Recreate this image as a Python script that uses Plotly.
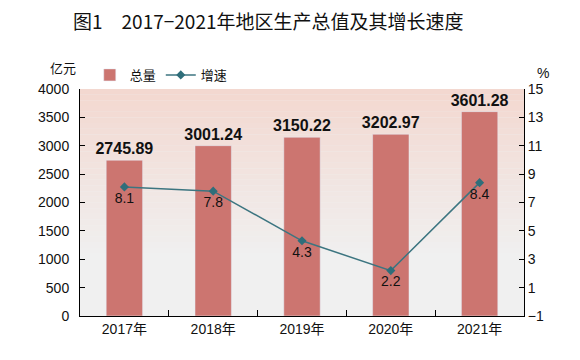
import plotly.graph_objects as go

years = ["2017年", "2018年", "2019年", "2020年", "2021年"]
totals = [2745.89, 3001.24, 3150.22, 3202.97, 3601.28]
growth = [8.1, 7.8, 4.3, 2.2, 8.4]
left_ticks = [0, 500, 1000, 1500, 2000, 2500, 3000, 3500, 4000]
right_ticks = [-1, 1, 3, 5, 7, 9, 11, 13, 15]

FONT = "Liberation Sans, Arial, Noto Sans CJK SC, sans-serif"
CJK = "Noto Sans CJK SC, sans-serif"

fig = go.Figure()
fig.add_trace(go.Bar(
    x=years, y=totals, name="总量", marker_color="#cc7570",
    width=0.41,
    text=[f"{v:.2f}" for v in totals], textposition="outside",
    constraintext="none",
    textfont=dict(size=16, color="#111111", family="Liberation Sans, Arial, sans-serif", weight="bold"),
    cliponaxis=False,
))
fig.add_trace(go.Scatter(
    x=years, y=growth, name="增速", yaxis="y2", mode="lines+markers+text",
    line=dict(color="#3c7580", width=1.5),
    marker=dict(symbol="diamond", size=7, color="#2f6e7a"),
    text=[f"{v:.1f}" for v in growth], textposition="bottom center",
    textfont=dict(size=14, color="#111111"),
))

# gradient background
top = (243, 216, 208)
bot = (240, 240, 240)
n = 40
for i in range(n):
    t = i / (n - 1)
    f = min(1.0, t / 0.75)
    c = tuple(round(top[k] + (bot[k] - top[k]) * f) for k in range(3))
    fig.add_shape(type="rect", xref="x domain", yref="y domain",
                  x0=0, x1=1, y0=1 - (i + 1) / n, y1=1 - i / n,
                  fillcolor=f"rgb{c}", line_width=0, layer="below")

fig.update_layout(
    width=572, height=352,
    margin=dict(l=72, r=56, t=81, b=44),
    paper_bgcolor="white", plot_bgcolor="#f0f0f0",
    font=dict(family=FONT, size=14, color="#111111"),
    title=dict(text="图1　2017−2021年地区生产总值及其增长速度", x=0.455, xanchor="center",
               y=0.96, yanchor="middle",
               font=dict(size=19, color="#111111", family=CJK)),
    showlegend=True,
    legend=dict(orientation="h", x=0.022, y=1.062, xanchor="left", yanchor="middle",
                font=dict(size=13, family=CJK), bgcolor="rgba(0,0,0,0)"),
    bargap=0.59,
    xaxis=dict(type="category", showline=True, linecolor="#000000", linewidth=1,
               ticks="inside", ticklen=6, tickcolor="#000000", tickson="boundaries",
               tickfont=dict(size=14, family=FONT), showgrid=False, mirror=False),
    yaxis=dict(range=[0, 4000], tickvals=left_ticks, showline=True, linecolor="#000000",
               ticks="inside", ticklen=5, tickcolor="#000000", showgrid=False, zeroline=False,
               ticklabelstandoff=7,
               tickfont=dict(size=14, family=FONT)),
    yaxis2=dict(range=[-1, 15], tickvals=right_ticks, overlaying="y", side="right",
                showline=True, linecolor="#000000", ticks="inside", ticklen=5, tickcolor="#000000",
                showgrid=False, zeroline=False, tickfont=dict(size=14, family=FONT)),
    annotations=[
        dict(text="亿元", xref="paper", yref="paper", x=-0.005, y=1.093, showarrow=False,
             xanchor="right", yanchor="middle", font=dict(size=13, family=CJK)),
        dict(text="%", xref="paper", yref="paper", x=1.025, y=1.07, showarrow=False,
             xanchor="left", yanchor="middle", font=dict(size=14)),
    ],
)

fig.write_html("out.html")
